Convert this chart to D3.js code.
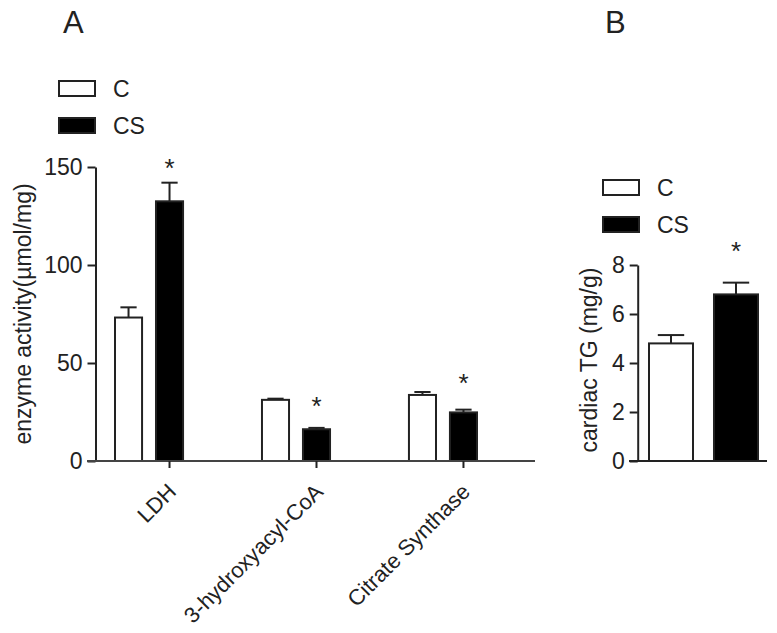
<!DOCTYPE html>
<html>
<head>
<meta charset="utf-8">
<script src="https://cdn.jsdelivr.net/npm/d3@7"></script>
<style>
  html, body { margin: 0; padding: 0; background: #fff; }
  svg { display: block; }
  text { font-family: "Liberation Sans", Arial, sans-serif; fill: #222; }
</style>
</head>
<body>
<svg id="chart" width="777" height="633"></svg>
<script>
// ---------- data ----------
const categoriesA = ["LDH", "3-hydroxyacyl-CoA", "Citrate Synthase"];
const seriesNames = ["C", "CS"];
const cValuesA = [73.2, 31.2, 33.7];
const cErrorsA = [5.2, 0.6, 1.5];
const csValuesA = [132.5, 16.2, 24.8];
const csErrorsA = [9.5, 0.7, 1.4];
const starsA = [152.5, 31.1, 43.0];
const yTicksA = [0, 50, 100, 150];
const yLabelA = "enzyme activity(\u00B5mol/mg)";

const groupsB = ["C", "CS"];
const valuesB = [4.8, 6.8];
const errorsB = [0.34, 0.48];
const starsB = [null, 8.8];
const yTicksB = [0, 2, 4, 6, 8];
const yLabelB = "cardiac TG (mg/g)";

// ---------- drawing ----------
const svg = d3.select("#chart");
const ink = "#222";
const fs = 23;
const fills = { C: "#fff", CS: "#000" };

function star(g, x, y) {
  g.append("text").attr("x", x).attr("y", y + 0.58 * 26)
    .attr("text-anchor", "middle").attr("font-size", 26).text("*");
}

function legend(x, y) {
  seriesNames.forEach((s, i) => {
    const yy = y + i * 37;
    svg.append("rect").attr("x", x).attr("y", yy).attr("width", 36).attr("height", 15)
      .attr("fill", fills[s]).attr("stroke", ink).attr("stroke-width", 2);
    svg.append("text").attr("x", x + 54).attr("y", yy + 16).attr("font-size", fs).text(s);
  });
}

function yAxis(g, scale, x, ticks) {
  const ax = g.append("g").attr("transform", `translate(${x},0)`)
    .call(d3.axisLeft(scale).tickValues(ticks).tickSize(8).tickSizeOuter(0).tickPadding(5));
  ax.select(".domain").attr("stroke", ink).attr("stroke-width", 2);
  ax.selectAll(".tick line").attr("stroke", ink).attr("stroke-width", 2);
  ax.selectAll(".tick text").attr("font-size", fs).attr("fill", ink)
    .style("font-family", '"Liberation Sans", Arial, sans-serif');
}

function errBar(g, cx, y0, y1, capW) {
  g.append("line").attr("x1", cx).attr("x2", cx).attr("y1", y0).attr("y2", y1)
    .attr("stroke", ink).attr("stroke-width", 2);
  g.append("line").attr("x1", cx - capW / 2).attr("x2", cx + capW / 2).attr("y1", y1).attr("y2", y1)
    .attr("stroke", ink).attr("stroke-width", 2);
}

// ===== Panel A =====
const gA = svg.append("g");
gA.append("text").attr("x", 63).attr("y", 33).attr("font-size", 31).text("A");
legend(59, 81);

const yA = d3.scaleLinear().domain([0, 150]).range([461, 167]);
const xA = d3.scaleBand().domain(categoriesA).range([115, 477]).paddingInner(0.537).paddingOuter(0);
const xInA = d3.scaleBand().domain(seriesNames).range([0, xA.bandwidth()]).paddingInner(0.34).paddingOuter(0);

const rowsA = categoriesA.map((c, i) => ({
  cat: c,
  bars: [
    { s: "C", v: cValuesA[i], e: cErrorsA[i] },
    { s: "CS", v: csValuesA[i], e: csErrorsA[i] }
  ],
  star: starsA[i]
}));

rowsA.forEach(r => {
  r.bars.forEach(b => {
    const x = xA(r.cat) + xInA(b.s);
    const w = xInA.bandwidth();
    errBar(gA, x + w / 2, yA(b.v), yA(b.v + b.e), w * 0.6);
    gA.append("rect").attr("x", x).attr("y", yA(b.v)).attr("width", w).attr("height", yA(0) - yA(b.v))
      .attr("fill", fills[b.s]).attr("stroke", ink).attr("stroke-width", 2);
  });
  const cx = xA(r.cat) + xInA("CS") + xInA.bandwidth() / 2;
  star(gA, cx, yA(r.star));
});

yAxis(gA, yA, 95.5, yTicksA);
// x axis line and ticks
gA.append("line").attr("x1", 87).attr("x2", 535).attr("y1", yA(0)).attr("y2", yA(0))
  .attr("stroke", "#444").attr("stroke-width", 2);
categoriesA.forEach(c => {
  const cx = xA(c) + xInA("CS") + xInA.bandwidth() / 2;
  gA.append("line").attr("x1", cx).attr("x2", cx).attr("y1", yA(0)).attr("y2", yA(0) + 7)
    .attr("stroke", ink).attr("stroke-width", 2);
  gA.append("text").attr("transform", `translate(${cx + 8},${yA(0) + 32}) rotate(-45)`)
    .attr("text-anchor", "end").attr("font-size", 22).text(c);
});
gA.append("text").attr("transform", `translate(31,314) rotate(-90)`)
  .attr("text-anchor", "middle").attr("font-size", 23).text(yLabelA);

// ===== Panel B =====
const gB = svg.append("g");
gB.append("text").attr("x", 605).attr("y", 33).attr("font-size", 31).text("B");
legend(603, 180);

const yB = d3.scaleLinear().domain([0, 8]).range([461, 265]);
const xB = d3.scaleBand().domain(groupsB).range([649, 758]).paddingInner(0.323).paddingOuter(0);

groupsB.forEach((gname, i) => {
  const x = xB(gname), w = xB.bandwidth();
  errBar(gB, x + w / 2, yB(valuesB[i]), yB(valuesB[i] + errorsB[i]), w * 0.6);
  gB.append("rect").attr("x", x).attr("y", yB(valuesB[i])).attr("width", w)
    .attr("height", yB(0) - yB(valuesB[i]))
    .attr("fill", fills[gname]).attr("stroke", ink).attr("stroke-width", 2);
  if (starsB[i] != null) star(gB, x + w / 2, yB(starsB[i]));
});

yAxis(gB, yB, 637.7, yTicksB);
gB.append("line").attr("x1", 629).attr("x2", 767).attr("y1", yB(0)).attr("y2", yB(0))
  .attr("stroke", ink).attr("stroke-width", 2);
gB.append("text").attr("transform", `translate(597,360) rotate(-90)`)
  .attr("text-anchor", "middle").attr("font-size", 23).text(yLabelB);
</script>
</body>
</html>
